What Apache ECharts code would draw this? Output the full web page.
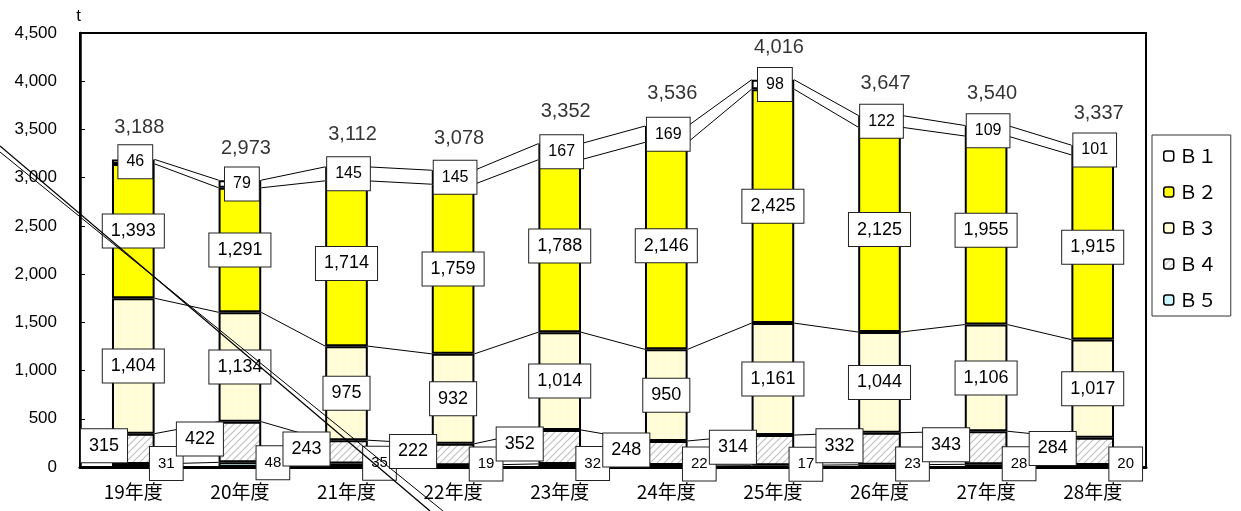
<!DOCTYPE html>
<html><head><meta charset="utf-8">
<script src="https://cdn.jsdelivr.net/npm/echarts@6/dist/echarts.min.js"></script>
<style>html,body{margin:0;padding:0;background:#fff}#c{width:1241px;height:511px}</style>
</head><body><div id="c"></div>
<script>
const categories = ['19年度','20年度','21年度','22年度','23年度','24年度','25年度','26年度','27年度','28年度'];
const seriesNames = ['Ｂ１','Ｂ２','Ｂ３','Ｂ４','Ｂ５'];
const b1 = [46,79,145,145,167,169,98,122,109,101];
const b2 = [1393,1291,1714,1759,1788,2146,2425,2125,1955,1915];
const b3 = [1404,1134,975,932,1014,950,1161,1044,1106,1017];
const b4 = [315,422,243,222,352,248,314,332,343,284];
const b5 = [31,48,35,19,32,22,17,23,28,20];
const totals = [3188,2973,3112,3078,3352,3536,4016,3647,3540,3337];
const yTicks = [0,500,1000,1500,2000,2500,3000,3500,4000,4500];

const fmt = v => Number(v).toLocaleString('en-US');
const numFont = 'Liberation Sans, Arial, sans-serif';
const cjkFont = 'Noto Sans CJK JP, sans-serif';
const GRID_LEFT = 80;

function makeHatch() {
  const s = 7, c = document.createElement('canvas');
  c.width = s; c.height = s;
  const g = c.getContext('2d');
  g.fillStyle = '#fff'; g.fillRect(0, 0, s, s);
  g.strokeStyle = '#c2c2c2'; g.lineWidth = 1.2;
  g.beginPath();
  g.moveTo(0, s); g.lineTo(s, 0);
  g.moveTo(-1, 1); g.lineTo(1, -1);
  g.moveTo(s - 1, s + 1); g.lineTo(s + 1, s - 1);
  g.stroke();
  return c;
}
function makeCream() {
  const s = 8, c = document.createElement('canvas');
  c.width = s; c.height = s;
  const g = c.getContext('2d');
  g.fillStyle = '#FFFCD6'; g.fillRect(0, 0, s, s);
  g.fillStyle = '#FFFEF0';
  g.fillRect(3, 3, 2, 2);
  return c;
}

function boxLabel(size, offset) {
  return {
    show: true, position: 'inside', offset: offset || [0,0],
    formatter: p => fmt(p.value),
    fontFamily: numFont, fontSize: size, color: '#000',
    backgroundColor: '#fff', borderColor: '#222', borderWidth: 1,
    padding: [7, 8, 6, 8], lineHeight: 20
  };
}
const barBase = { type: 'bar', stack: 'total', barWidth: '40%', z: 3 };
const edge = { borderColor: '#000', borderWidth: 2 };

const stackOrder = [b5, b4, b3, b2, b1];
function cum(i, k) { let s = 0; for (let j = 0; j <= k; j++) s += stackOrder[j][i]; return s; }

const chart = echarts.init(document.getElementById('c'), null, {renderer: 'canvas'});
chart.setOption({
  animation: false,
  backgroundColor: '#fff',
  grid: { left: GRID_LEFT, right: 95, top: 33, bottom: 44, show: true, borderColor: '#000', borderWidth: 2 },
  legend: {
    data: seriesNames, orient: 'vertical', left: 1152, top: 135,
    padding: [11, 14, 6, 11], itemGap: 16, itemWidth: 10, itemHeight: 10,
    borderColor: '#333', borderWidth: 1,
    textStyle: { fontFamily: cjkFont, fontSize: 19, color: '#000', lineHeight: 20 },
    itemStyle: { borderColor: '#000', borderWidth: 1.5 }
  },
  xAxis: {
    type: 'category', data: categories,
    axisLine: { lineStyle: { color: '#000', width: 3 } },
    axisTick: { show: false },
    axisLabel: { fontFamily: cjkFont, fontSize: 19, color: '#000', margin: 15 }
  },
  yAxis: {
    type: 'value', min: yTicks[0], max: yTicks[yTicks.length-1], interval: 500,
    name: 't', nameGap: 8, nameTextStyle: { fontFamily: numFont, fontSize: 17, color: '#000', align: 'right', padding: [0, -1, 0, 0] },
    axisLine: { show: true, lineStyle: { color: '#000', width: 2.5 } },
    axisTick: { show: true, inside: true, length: 5, lineStyle: { color: '#000' } },
    splitLine: { show: false },
    axisLabel: { formatter: v => fmt(v), fontFamily: numFont, fontSize: 17, color: '#000', margin: 23 }
  },
  series: [
    Object.assign({}, barBase, { name: 'Ｂ５', data: b5,
      itemStyle: Object.assign({ color: '#C9F6FB' }, edge),
      label: boxLabel(15, [33, -2]) }),
    Object.assign({}, barBase, { name: 'Ｂ４', id: 'b4', data: b4,
      itemStyle: Object.assign({ color: { image: makeHatch(), repeat: 'repeat' } }, edge),
      label: boxLabel(18, [-40, -3]) }),
    Object.assign({}, barBase, { name: 'Ｂ３', data: b3,
      itemStyle: Object.assign({ color: { image: makeCream(), repeat: 'repeat' } }, edge),
      label: boxLabel(18) }),
    Object.assign({}, barBase, { name: 'Ｂ２', data: b2,
      itemStyle: Object.assign({ color: '#FFFF00' }, edge),
      label: boxLabel(18) }),
    Object.assign({}, barBase, { name: 'Ｂ１', data: b1,
      itemStyle: Object.assign({ color: '#fff' }, edge),
      label: boxLabel(16, [2, 0]) }),
    {
      type: 'scatter', name: 'total', data: totals, symbolSize: 0, z: 5,
      label: { show: true, position: 'top', distance: 22, offset: [6, 0], formatter: p => fmt(p.value),
        fontFamily: numFont, fontSize: 20, color: '#000' },
      tooltip: { show: false }
    },
    {
      type: 'custom', name: 'serieslines', z: 2,
      data: categories.map((c, i) => [i, 0]),
      renderItem: function (params, api) {
        const i = params.dataIndex;
        if (i >= categories.length - 1) return null;
        const hw = api.size([1, 0])[0] * 0.2;
        const children = [];
        for (let k = 0; k < stackOrder.length; k++) {
          const p1 = api.coord([i, cum(i, k)]);
          const p2 = api.coord([i + 1, cum(i + 1, k)]);
          children.push({ type: 'line', shape: { x1: p1[0] + hw, y1: p1[1], x2: p2[0] - hw, y2: p2[1] },
            style: { stroke: '#000', lineWidth: 1 } });
        }
        return { type: 'group', children: children };
      }
    }
  ],
  graphic: [
    { type: 'line', z: 100, shape: { x1: 0, y1: 146, x2: 430, y2: 511 }, style: { stroke: '#000', lineWidth: 1.3 } },
    { type: 'line', z: 100, shape: { x1: 0, y1: 152, x2: 443, y2: 511 }, style: { stroke: '#000', lineWidth: 1 } }
  ]
});

// keep the B4 label boxes inside the plot area (like the original's automatic placement)
const boxHalf = 24;
const b4Data = b4.map((v, i) => {
  const px = chart.convertToPixel({ xAxisIndex: 0 }, i);
  const ox = Math.max(-40, GRID_LEFT - px + boxHalf);
  return { value: v, label: { offset: [ox, -3] } };
});
chart.setOption({ series: [{ id: 'b4', data: b4Data }] });
</script></body></html>
